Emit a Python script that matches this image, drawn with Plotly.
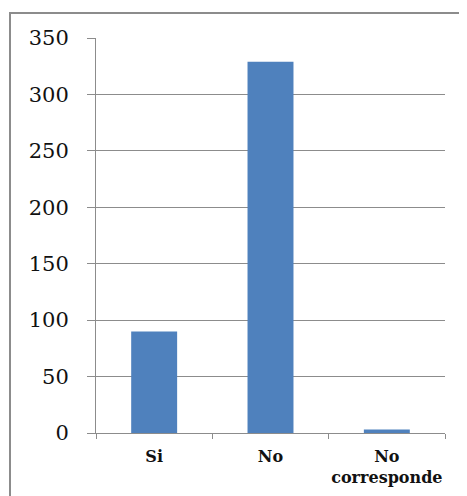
import plotly.graph_objects as go

categories = ["Si", "No", "No<br>corresponde"]
values = [90, 329, 3]
y_ticks = [0, 50, 100, 150, 200, 250, 300, 350]

fig = go.Figure(go.Bar(
    x=categories, y=values,
    marker=dict(color="#4F81BD", line=dict(width=0)),
    width=0.395,
))

# page has an 8px body margin; compensate so the plot lands where the reference has it
OFF = 8
W, H = 467 - OFF, 496 - OFF
L, R, T, B = 96 - OFF, 22, 38 - OFF, 63
pw, ph = W - L - R, H - T - B

def px_x(px):
    return (px - OFF - L) / pw

def px_y(py):
    return (H - B - (py - OFF)) / ph

fig.add_shape(type="rect", xref="paper", yref="paper",
              x0=px_x(10), x1=px_x(490), y0=px_y(13), y1=px_y(530),
              line=dict(color="#8c8c8c", width=2), fillcolor="rgba(0,0,0,0)",
              layer="below")

fig.update_layout(
    width=W, height=H,
    margin=dict(l=L, r=R, t=T, b=B, pad=0, autoexpand=False),
    paper_bgcolor="white", plot_bgcolor="white",
    showlegend=False,
)
fig.update_xaxes(
    type="category", tickson="boundaries", ticks="outside", ticklen=5,
    tickcolor="#8c8c8c", tickwidth=1, tickangle=0, automargin=False,
    showline=True, linecolor="#8c8c8c", linewidth=1,
    tickfont=dict(family="DejaVu Serif", size=16, color="#111111", weight="bold"),
    ticklabelstandoff=9,
    showgrid=False,
)
fig.update_yaxes(
    range=[0, 350], tickvals=y_ticks, ticks="outside", ticklen=8,
    tickcolor="#8c8c8c", tickwidth=1, automargin=False,
    showline=True, linecolor="#8c8c8c", linewidth=1,
    showgrid=True, gridcolor="#8c8c8c", gridwidth=1,
    zeroline=False,
    tickfont=dict(family="DejaVu Serif", size=21, color="#111111"),
    ticklabelstandoff=14,
)

fig.write_html("out.html")
